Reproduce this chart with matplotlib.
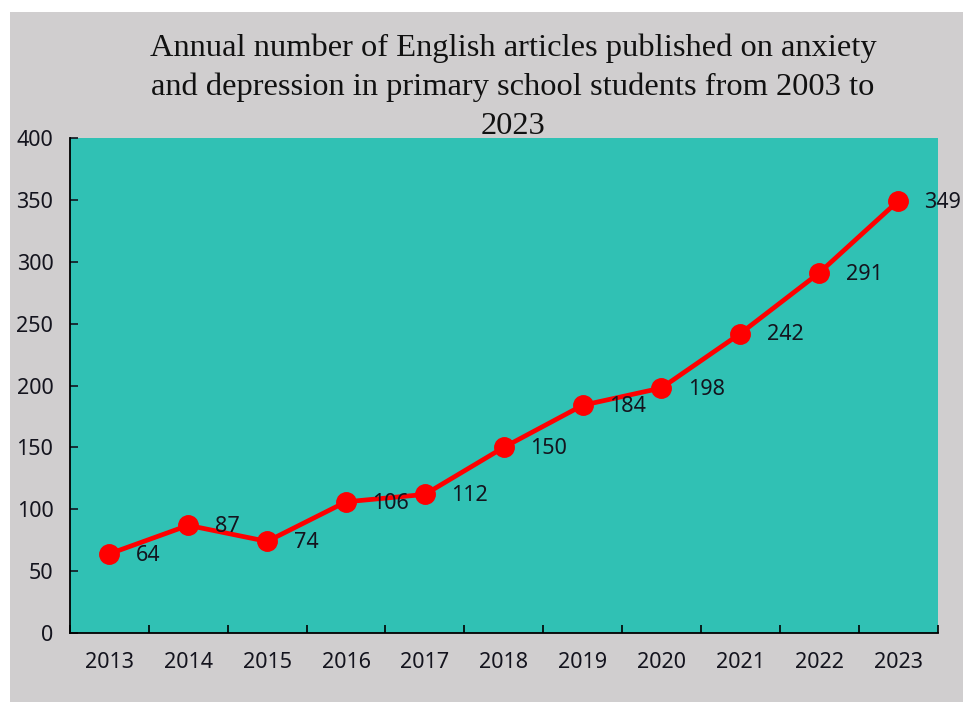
import matplotlib
matplotlib.use("Agg")
import matplotlib.pyplot as plt
from matplotlib.patches import Rectangle

FONT_SIZE = 15.5
FIGURE_SIZE = (9.63, 7.02)
DPI = 100

years = ["2013", "2014", "2015", "2016", "2017", "2018",
         "2019", "2020", "2021", "2022", "2023"]
articles = [64, 87, 74, 106, 112, 150, 184, 198, 242, 291, 349]
y_ticks = [0, 50, 100, 150, 200, 250, 300, 350, 400]

TITLE = ("Annual number of English articles published on anxiety\n"
         "and depression in primary school students from 2003 to\n"
         "2023")

GREY = "#D0CECF"
TEAL = "#30C1B4"
RED = "#FF0000"

plt.rcParams["font.family"] = ["Noto Sans", "DejaVu Sans"]

fig = plt.figure(figsize=FIGURE_SIZE, dpi=DPI, facecolor="white")
# grey chart panel, leaving a thin white margin at top/left
fig.patches.append(Rectangle((10 / 963, 0), 1, 1 - 12 / 702,
                             transform=fig.transFigure, facecolor=GREY,
                             edgecolor="none", zorder=-10))

ax = fig.add_axes([70 / 963, 69 / 702, 867.5 / 963, 495 / 702])
ax.set_facecolor(TEAL)
ax.set_zorder(1)

x = list(range(len(years)))
ax.plot(x, articles, color=RED, linewidth=3.4, marker="o",
        markersize=14, zorder=3, solid_capstyle="round")

for xi, v in zip(x, articles):
    ax.annotate(str(v), (xi, v), xytext=(19, -1), textcoords="offset points",
                ha="left", va="center", fontsize=FONT_SIZE, color="#14141E",
                zorder=4, annotation_clip=False)

ax.set_xlim(-0.5, len(years) - 0.5)
ax.set_ylim(0, 400)
ax.set_yticks(y_ticks)
ax.set_yticklabels([str(t) for t in y_ticks])

# category labels centred, tick marks on the boundaries between years
ax.set_xticks(x)
ax.set_xticklabels(years)
ax.tick_params(axis="x", which="major", length=0, pad=14,
               labelsize=FONT_SIZE, colors="#14141E")
ax.set_xticks([i - 0.5 for i in range(len(years) + 1)], minor=True)
ax.tick_params(axis="x", which="minor", direction="in", length=6,
               width=1.2, color="black")
ax.tick_params(axis="y", direction="in", length=6, width=1.2, pad=12,
               labelsize=FONT_SIZE, colors="#14141E")

for side in ("top", "right"):
    ax.spines[side].set_visible(False)
for side in ("left", "bottom"):
    ax.spines[side].set_linewidth(1.3)
    ax.spines[side].set_color("black")

fig.text(513 / 963, 1 - 87 / 702, TITLE, ha="center", va="center",
         fontsize=23.4, family="Liberation Serif", linespacing=1.44,
         color="#111111", zorder=5)

fig.savefig("out.png", dpi=DPI, facecolor=fig.get_facecolor())
